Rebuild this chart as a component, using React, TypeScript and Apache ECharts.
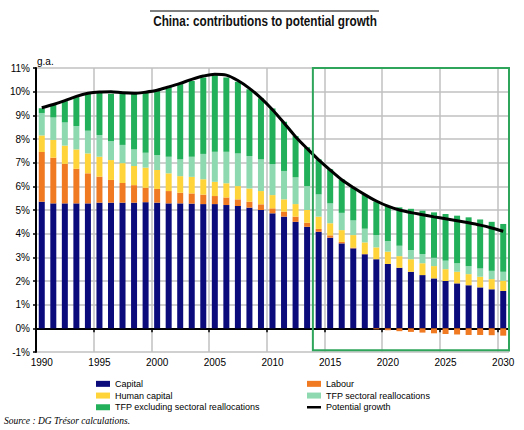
import React, { useEffect, useRef } from "react";
import * as echarts from "echarts";

const years = [
  "1990", "1991", "1992", "1993", "1994", "1995", "1996", "1997", "1998", "1999",
  "2000", "2001", "2002", "2003", "2004", "2005", "2006", "2007", "2008", "2009",
  "2010", "2011", "2012", "2013", "2014", "2015", "2016", "2017", "2018", "2019",
  "2020", "2021", "2022", "2023", "2024", "2025", "2026", "2027", "2028", "2029", "2030",
];

const capital = [
  5.35, 5.28, 5.28, 5.28, 5.28, 5.31, 5.31, 5.31, 5.31, 5.33,
  5.31, 5.28, 5.28, 5.27, 5.25, 5.25, 5.21, 5.17, 5.1, 5.0,
  4.86, 4.72, 4.5, 4.29, 4.08, 3.83, 3.59, 3.38, 3.13, 2.92,
  2.72, 2.56, 2.39, 2.25, 2.11, 2.0, 1.9, 1.82, 1.73, 1.65, 1.58,
];

const labour = [
  2.1, 1.93, 1.67, 1.46, 1.27, 1.1, 0.96, 0.83, 0.74, 0.61,
  0.58, 0.52, 0.45, 0.43, 0.4, 0.34, 0.32, 0.28, 0.25, 0.24,
  0.21, 0.21, 0.22, 0.17, 0.12, 0.1, 0.06, 0.03, 0.01, -0.04,
  -0.08, -0.12, -0.15, -0.18, -0.21, -0.24, -0.26, -0.28, -0.28, -0.29, -0.31,
];

const humanCapital = [
  0.7, 0.75, 0.77, 0.82, 0.84, 0.84, 0.84, 0.84, 0.81, 0.85,
  0.8, 0.75, 0.7, 0.7, 0.65, 0.6, 0.6, 0.56, 0.56, 0.56,
  0.56, 0.52, 0.53, 0.54, 0.52, 0.51, 0.5, 0.53, 0.49, 0.5,
  0.52, 0.49, 0.53, 0.5, 0.52, 0.5, 0.49, 0.47, 0.45, 0.43, 0.43,
];

const tfpSectoral = [
  0.95, 0.95, 0.98, 0.99, 0.96, 0.92, 0.8, 0.77, 0.7, 0.63,
  0.63, 0.7, 0.71, 0.85, 1.07, 1.27, 1.33, 1.38, 1.37, 1.34,
  1.31, 1.2, 1.13, 1.01, 0.94, 0.84, 0.73, 0.62, 0.58, 0.52,
  0.45, 0.44, 0.39, 0.39, 0.35, 0.36, 0.36, 0.34, 0.35, 0.35, 0.38,
];

const tfpExcluding = [
  0.2, 0.55, 0.9, 1.23, 1.58, 1.8, 2.0, 2.19, 2.37, 2.55,
  2.7, 2.95, 3.18, 3.2, 3.23, 3.24, 3.14, 3.03, 2.82, 2.58,
  2.35, 2.08, 1.74, 1.64, 1.48, 1.44, 1.41, 1.38, 1.43, 1.41,
  1.48, 1.62, 1.74, 1.83, 1.92, 1.97, 2.01, 2.06, 2.07, 2.07, 2.02,
];

const potentialGrowth = [
  9.32, 9.46, 9.62, 9.8, 9.93, 9.99, 10.0, 9.95, 9.93, 9.98,
  10.06, 10.2, 10.35, 10.52, 10.66, 10.74, 10.7, 10.47, 10.14, 9.73,
  9.24, 8.68, 8.1, 7.6, 7.12, 6.69, 6.28, 5.95, 5.65, 5.38,
  5.16, 5.0, 4.89, 4.8, 4.71, 4.63, 4.55, 4.46, 4.36, 4.24, 4.1,
];

const FONT = "'Liberation Sans', Arial, sans-serif";

export default function App() {
  const ref = useRef<HTMLDivElement>(null);

  useEffect(() => {
    const chart = echarts.init(ref.current!, null, { renderer: "svg" });

    const bar = (name: string, data: number[], color: string) => ({
      name,
      type: "bar",
      stack: "total",
      data,
      barWidth: 6,
      xAxisIndex: 0,
      yAxisIndex: 0,
      itemStyle: { color },
      emphasis: { disabled: true },
      z: 2,
    });

    const every5 = (i: number) => i % 5 === 0;

    chart.setOption({
      animation: false,
      grid: { left: 36, right: 15, top: 68, bottom: 78, outerBoundsMode: "none" },
      xAxis: [
        {
          type: "category",
          data: years,
          position: "bottom",
          axisLine: { show: true, onZero: true, lineStyle: { color: "#000", width: 2 } },
          axisTick: { show: true, interval: every5, length: 4, lineStyle: { color: "#000", width: 1.5 } },
          axisLabel: { show: false },
          splitLine: {
            show: true,
            interval: (i: number) => i % 5 === 0 && i > 0,
            lineStyle: { color: "#c0c0c0", width: 1.5 },
          },
        },
        {
          type: "category",
          data: years,
          position: "bottom",
          axisLine: { show: false, onZero: false },
          axisTick: { show: false },
          axisLabel: { interval: every5, fontSize: 10, color: "#000", fontFamily: FONT, margin: 5 },
          splitLine: { show: false },
        },
      ],
      yAxis: {
        type: "value",
        min: -1,
        max: 11,
        interval: 1,
        axisLine: { show: true, onZero: false, lineStyle: { color: "#000", width: 2 } },
        axisTick: { show: true, length: 3, lineStyle: { color: "#000", width: 1.5 } },
        axisLabel: { formatter: "{value}%", fontSize: 10, color: "#000", fontFamily: FONT, margin: 6 },
        splitLine: { show: true, lineStyle: { color: "#c0c0c0", width: 1.5 } },
      },
      legend: [
        {
          orient: "vertical",
          left: 91,
          top: 373,
          itemWidth: 14,
          itemHeight: 6,
          itemGap: 0,
          icon: "rect",
          selectedMode: false,
          textStyle: { fontSize: 9, color: "#000", fontFamily: FONT, lineHeight: 11.7 },
          data: ["Capital", "Human capital", "TFP excluding sectoral reallocations"],
        },
        {
          orient: "vertical",
          left: 302,
          top: 373,
          itemWidth: 14,
          itemHeight: 6,
          itemGap: 0,
          icon: "rect",
          selectedMode: false,
          textStyle: { fontSize: 9, color: "#000", fontFamily: FONT, lineHeight: 11.7 },
          data: [
            "Labour",
            "TFP sectoral reallocations",
            {
              name: "Potential growth",
              icon: "path://M0,0h0.01v0.01z M0,1.7h14v2.6H0z M14,6h-0.01v-0.01z",
              itemStyle: { color: "#000", borderWidth: 0 },
            },
          ],
        },
      ],
      series: [
        bar("Capital", capital, "#0b0b7c"),
        bar("Labour", labour, "#f07a22"),
        bar("Human capital", humanCapital, "#ffd43a"),
        bar("TFP sectoral reallocations", tfpSectoral, "#8fd9b0"),
        bar("TFP excluding sectoral reallocations", tfpExcluding, "#22b05a"),
        {
          name: "Potential growth",
          type: "line",
          data: potentialGrowth,
          smooth: 0.3,
          symbol: "none",
          color: "#000",
          lineStyle: { color: "#000", width: 3 },
          emphasis: { disabled: true },
          z: 5,
        },
      ],
    });

    const px = (v: string) => chart.convertToPixel({ xAxisIndex: 0 }, v) as number;
    const py = (v: number) => chart.convertToPixel({ yAxisIndex: 0 }, v) as number;
    const band = (px("2030") - px("1990")) / (years.length - 1);
    const boxLeft = px("2014") - band / 2;
    const boxRight = px("2030") + band / 2;
    const boxTop = py(11);
    const boxBottom = py(-0.93);

    chart.setOption({
      graphic: [
        {
          type: "line",
          shape: { x1: 150, y1: 11, x2: 379, y2: 11 },
          style: { stroke: "#000", lineWidth: 1 },
        },
        {
          type: "text",
          x: 265,
          y: 21,
          scaleX: 0.84,
          style: {
            text: "China: contributions to potential growth",
            x: 0,
            y: 0,
            textAlign: "center",
            textVerticalAlign: "middle",
            font: "bold 14px 'Liberation Sans', Arial, sans-serif",
            fill: "#111",
          },
        },
        {
          type: "text",
          x: 37,
          y: 61,
          style: {
            text: "g.a.",
            textVerticalAlign: "middle",
            font: "10px 'Liberation Sans', Arial, sans-serif",
            fill: "#000",
          },
        },
        {
          type: "text",
          x: 4,
          y: 421,
          style: {
            text: "Source : DG Trésor calculations.",
            textVerticalAlign: "middle",
            font: "italic 9.5px 'Liberation Serif', 'Times New Roman', serif",
            fill: "#000",
          },
        },
        {
          type: "rect",
          z: 100,
          shape: { x: boxLeft, y: boxTop, width: boxRight - boxLeft, height: boxBottom - boxTop },
          style: { fill: "none", stroke: "#2ea55a", lineWidth: 2 },
        },
      ],
    });

    return () => chart.dispose();
  }, []);

  return (
    <div
      ref={ref}
      style={{ position: "absolute", left: 0, top: 0, width: 524, height: 430 }}
    />
  );
}
